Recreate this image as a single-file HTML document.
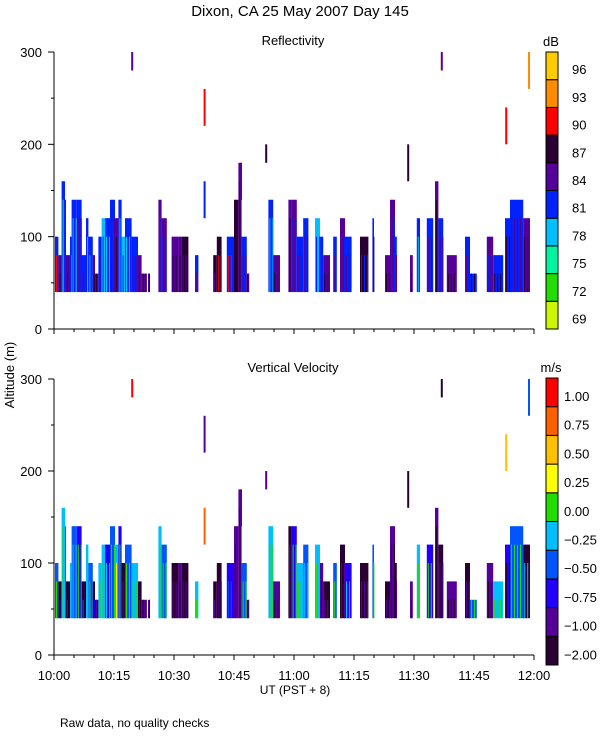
<!DOCTYPE html>
<html><head><meta charset="utf-8"><style>
body{margin:0;background:#fff;}
svg{display:block;font-family:"Liberation Sans",sans-serif;}
</style></head><body>
<svg id="chart" width="600" height="750" viewBox="0 0 600 750" xmlns="http://www.w3.org/2000/svg"></svg>
<script>
// ---- data ----
const segStart = [0.25,1.1,1.9,2.75,3,4,4.4,5.7,6.9,8,8.6,9.7,10.25,11.1,11.9,12.75,14,15.25,16.1,16.9,17.75,19.4,21,21.9,23.5,
  26.1,26.9,29.4,31.1,31.9,35.25,39.8,40.7,43.2,45,46.1,46.9,48.2,
  53.6,54.8,58.6,59.4,60.7,62.3,65.25,66.5,67.3,69.8,71.5,72.75,76.5,79.6,82.75,84,85.25,89,90.7,93.2,95.25,96.1,98.2,102.75,104,108.2,109.8,112.75,114,117.3];
const segEnd = [1.1,1.9,2.75,3,4,4.4,5.7,6.9,8,8.6,9.7,10.25,11.1,11.9,12.75,14,15.25,16.1,16.9,17.75,19.4,21,21.9,23.2,23.9,
  26.9,28.2,31.1,31.9,33.6,36.1,40.7,41.9,45,46.1,46.9,48.2,48.8,
  54.8,56.5,59.4,60.7,62.3,63.6,66.5,67.3,69,70.7,72.75,74.4,78.6,80,84,85.25,85.7,89.7,91.5,94.8,96.1,97.3,100.7,104,105.7,109.8,112.3,114,117.3,119];
const segTop = [100,80,160,140,80,100,140,140,80,120,100,80,60,100,120,120,140,120,140,100,120,100,80,60,60,
  140,120,100,100,100,80,80,100,100,140,180,100,60,
  140,80,140,140,100,120,120,100,80,100,120,100,100,120,80,140,100,80,120,120,160,120,80,100,60,100,80,120,140,120];
const reflA = [4,5,4,4,5,4,4,4,4,4,4,5,5,4,3,4,4,5,4,3,4,4,5,5,5, 5,5,5,5,6,4,6,6,4,6,5,4,6,
  4,5,5,5,4,4,3,4,5,4,5,4,6,4,5,5,4,5,4,4,5,4,5,4,4,5,4,4,4,5];
const reflB = [7,6,2,3,6,3,3,5,5,3,3,6,6,5,4,3,5,6,3,4,3,5,6,6,6, 4,4,6,6,5,5,5,7,7,6,6,5,5,
  3,6,6,4,5,5,4,5,6,5,4,5,4,6,6,4,5,6,3,5,6,5,6,5,6,4,6,6,5,6];
const velA = [3,0,4,3,0,4,3,2,0,4,3,0,0,4,4,2,3,4,2,0,3,4,0,1,1, 4,3,0,1,0,4,0,0,2,1,1,3,0,
  4,1,0,2,4,3,4,1,0,3,0,2,0,3,0,1,0,1,4,2,1,0,1,0,3,1,4,2,3,0];
const velB = [5,2,5,5,1,5,4,5,3,5,5,2,1,5,5,4,5,6,5,1,5,5,1,0,0, 5,5,1,0,1,5,1,1,3,0,0,5,1,
  5,0,1,5,5,4,5,0,1,5,1,4,1,5,1,0,1,0,5,5,0,1,0,1,5,0,5,0,5,4];
const baseAlt = 40;
const isoMin = [19.3,37.4,37.4,46.5,52.8,88.3,96.7,112.8,118.5];
const isoBot = [280,220,120,140,180,160,280,200,260];
const isoTop = [300,260,160,180,200,200,300,240,300];
const isoRefl = [5,7,4,5,6,6,5,7,8];
const isoVel  = [9,1,8,1,1,0,0,7,3];
const reflColors = ["#ccf500","#22dd00","#00f5a0","#00bfff","#0022ff","#550099","#2a0033","#ff0000","#ff8c00","#ffcc00"];
const reflLabels = ["69","72","75","78","81","84","87","90","93","96"];
const velColors = ["#2a0033","#550099","#2200ff","#0055ff","#00bfff","#22dd00","#ffff00","#ffc000","#ff6000","#ff0000"];
const velLabels = ["−2.00","−1.00","−0.75","−0.50","−0.25","0.00","0.25","0.50","0.75","1.00"];
const xTickLabels = ["10:00","10:15","10:30","10:45","11:00","11:15","11:30","11:45","12:00"];
const yTickLabels = ["0","100","200","300"];

const svg = document.getElementById('chart');
const NS = "http://www.w3.org/2000/svg";
function mk(tag, attrs, parent){const e=document.createElementNS(NS,tag);for(const k in attrs)e.setAttribute(k,attrs[k]);(parent||svg).appendChild(e);return e;}
const xs = m => 54 + m*4;
const panels = [
  {name:'reflectivity', y0:329, y300:52, colA:reflA, colB:reflB, iso:isoRefl, pal:reflColors, labels:reflLabels, unit:'dB', title:'Reflectivity', cbTop:52, cbBot:329},
  {name:'velocity', y0:655, y300:379, colA:velA, colB:velB, iso:isoVel, pal:velColors, labels:velLabels, unit:'m/s', title:'Vertical Velocity', cbTop:378, cbBot:665}
];
function txt(s,x,y,attrs,name){const t=mk('text',Object.assign({x:x,y:y,'font-size':13,fill:'#000'},attrs||{}));t.textContent=s;


return t;}
txt("Dixon, CA 25 May 2007  Day 145",300,16,{'text-anchor':'middle','font-size':15},'chart-title');
panels.forEach(p=>{
  const ya = a => p.y0 - a*(p.y0-p.y300)/300;
  const g = mk('g',{});
  
  
  txt(p.title,293,p.y300-7,{'text-anchor':'middle'},p.name+'-title');
  for(let i=0;i<segStart.length;i++){
    const x1=xs(segStart[i]), x2=xs(segEnd[i]);
    const r=mk('rect',{x:x1,y:ya(segTop[i]),width:Math.max(1,x2-x1),height:ya(baseAlt)-ya(segTop[i]),fill:p.pal[p.colA[i]]},g);
    
    
    const st = Math.max(baseAlt+20, segTop[i]-20);
    for(let x=x1+1;x<x2-0.5;x+=3){
      const s=mk('rect',{x:x,y:ya(st),width:1,height:ya(baseAlt)-ya(st),fill:p.pal[p.colB[i]]},g);
      
      
    }
  }
  for(let i=0;i<isoMin.length;i++){
    const r=mk('rect',{x:xs(isoMin[i]),y:ya(isoTop[i]),width:2,height:ya(isoBot[i])-ya(isoTop[i]),fill:p.pal[p.iso[i]]},g);
    
    
  }
  mk('line',{x1:54,y1:p.y300,x2:54,y2:p.y0,stroke:'#000'},g);
  mk('line',{x1:54,y1:p.y0,x2:534,y2:p.y0,stroke:'#000'},g);
  for(let a=0;a<=300;a+=50){
    const maj=a%100===0;
    mk('line',{x1:maj?48:51,y1:ya(a),x2:54,y2:ya(a),stroke:'#000'},g);
    if(maj) txt(yTickLabels[a/100],42,ya(a)+5,{'text-anchor':'end'},p.name+'-y-tick-label');
  }
  for(let m=0;m<=120;m+=5){
    const maj=m%15===0;
    mk('line',{x1:xs(m),y1:p.y0,x2:xs(m),y2:p.y0+(maj?5:3),stroke:'#000'},g);
  }
  const n=p.pal.length, h=(p.cbBot-p.cbTop)/n;
  for(let k=0;k<n;k++){
    const yb=p.cbBot-(k+1)*h;
    const r=mk('rect',{x:546,y:yb,width:12,height:h,fill:p.pal[k],stroke:'#000','stroke-width':1},g);
    
    
    txt(p.labels[k],p.name==='velocity'?564:572,yb+h*0.8,{},p.name+'-colorbar-label');
  }
  txt(p.unit,551,p.cbTop-6,{'text-anchor':'middle'},p.name+'-unit');
});
for(let i=0;i<xTickLabels.length;i++) txt(xTickLabels[i],xs(i*15),680,{'text-anchor':'middle'},'x-tick-label');
txt("UT  (PST + 8)",295,694,{'text-anchor':'middle','font-size':12},'x-axis-title');
txt("Altitude (m)",0,0,{'text-anchor':'middle',transform:'translate(14,375) rotate(-90)'},'y-axis-title');
txt("Raw data, no quality checks",60,727,{'font-size':12},'footnote');
</script>
</body></html>
